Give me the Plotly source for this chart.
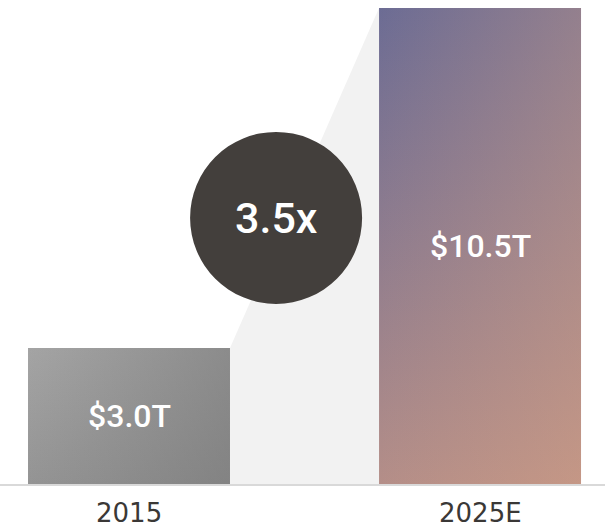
import plotly.graph_objects as go

# 数据
categories = ['2015', '2025E']
values = [3.0, 10.5]
value_labels = ['$3.0T', '$10.5T']
multiple_label = '3.5x'

# 样式
BAR_HALF = 0.2877
FONT = "Roboto, 'Noto Sans', sans-serif"
bar_styles = [
    dict(top='#a4a4a4', bottom='#949494', tint='rgba(110, 110, 110, {a})', alpha=0.45),
    dict(top='#6c6c94', bottom='#b48e88', tint='rgba(232, 170, 128, {a})', alpha=0.32),
]

fig = go.Figure()

# 连接区域（浅灰）
fig.add_trace(go.Scatter(
    x=[BAR_HALF, 1 - BAR_HALF, 1 - BAR_HALF, BAR_HALF, BAR_HALF],
    y=[values[0], values[1], 0, 0, values[0]],
    mode='lines',
    fill='toself',
    fillcolor='#f2f2f2',
    line=dict(width=0),
    hoverinfo='skip',
))

# 柱子：竖向渐变 + 横向半透明叠加，近似对角渐变
for i, (v, st) in enumerate(zip(values, bar_styles)):
    xs = [i - BAR_HALF, i + BAR_HALF, i + BAR_HALF, i - BAR_HALF, i - BAR_HALF]
    ys = [0, 0, v, v, 0]
    fig.add_trace(go.Scatter(
        x=xs, y=ys, mode='lines', fill='toself',
        line=dict(width=0),
        fillgradient=dict(type='vertical',
                          colorscale=[[0, st['bottom']], [1, st['top']]]),
        hoverinfo='skip',
    ))
    fig.add_trace(go.Scatter(
        x=xs, y=ys, mode='lines', fill='toself',
        line=dict(width=0),
        fillgradient=dict(type='horizontal',
                          colorscale=[[0, st['tint'].format(a=0)],
                                      [1, st['tint'].format(a=st['alpha'])]]),
        hoverinfo='skip',
    ))
    fig.add_annotation(
        x=i, y=v / 2, text=value_labels[i], showarrow=False,
        font=dict(family=FONT, size=32, color='white', weight=500),
    )
    fig.add_annotation(
        x=i, y=0, yanchor='top', yshift=-12, text=categories[i], showarrow=False,
        font=dict(family="'DejaVu Sans', sans-serif", size=26, color='#3a3836'),
    )

# 倍数圆圈
cx, cy, r = 0.419, 5.87, 86
fig.add_shape(
    type='circle', xref='x', yref='y',
    xsizemode='pixel', ysizemode='pixel',
    xanchor=cx, yanchor=cy,
    x0=-r, x1=r, y0=-r, y1=r,
    fillcolor='#433f3c', line=dict(width=0),
)
fig.add_annotation(
    x=cx, y=cy, text=multiple_label, showarrow=False,
    font=dict(family=FONT, size=43, color='white', weight=500),
)

fig.update_layout(
    width=605, height=527,
    showlegend=False,
    plot_bgcolor='white',
    paper_bgcolor='white',
    margin=dict(l=0, r=0, t=0, b=43),
)
fig.update_xaxes(
    range=[-0.3675, 1.356], showgrid=False, zeroline=False,
    showticklabels=False, showline=True, linecolor='#d9d9d9', linewidth=1.5,
    fixedrange=True,
)
fig.update_yaxes(range=[0, 10.676], visible=False, fixedrange=True)

fig.write_html("out.html", post_script="document.body.style.margin='0';",
               config={'displayModeBar': False})
